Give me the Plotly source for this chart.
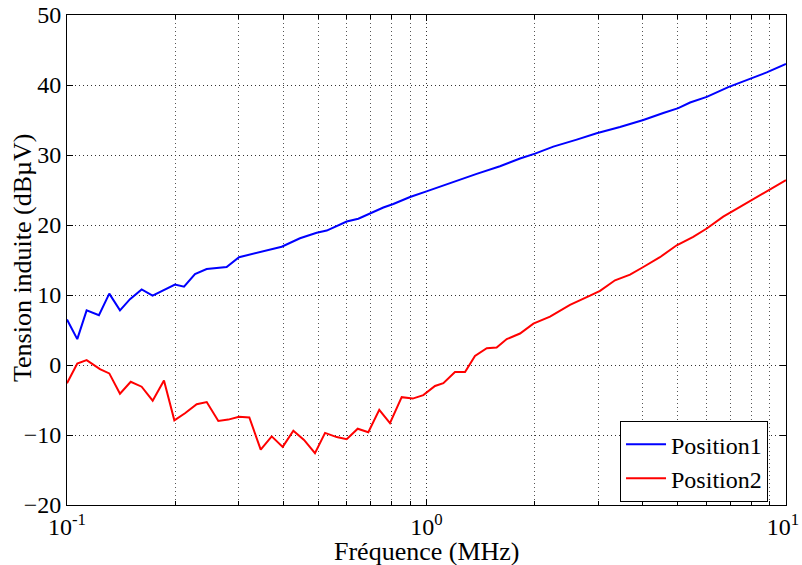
import plotly.graph_objects as go

# ---- data ----
freq_pos1 = [0.1, 0.1068, 0.1134, 0.1227, 0.1311, 0.1404, 0.1497, 0.1613, 0.173, 0.1853,
             0.1997, 0.2116, 0.227, 0.2446, 0.278, 0.301, 0.330, 0.3594, 0.3956, 0.4447,
             0.495, 0.5278, 0.5998, 0.6461, 0.6964, 0.7585, 0.8085, 0.8999, 1.0, 1.163,
             1.379, 1.601, 1.82, 2.004, 2.253, 2.618, 2.974, 3.453, 4.01, 4.557,
             5.016, 5.41, 6.02, 6.91, 7.78, 8.84, 10.0]
pos1_dbuv = [6.5, 3.7, 7.8, 7.1, 10.2, 7.8, 9.4, 10.8, 9.9, 10.7,
             11.5, 11.2, 13.0, 13.7, 14.0, 15.4, 15.9, 16.3, 16.9, 18.1,
             18.9, 19.2, 20.5, 20.9, 21.7, 22.5, 23.0, 24.0, 24.8, 26.0,
             27.3, 28.4, 29.5, 30.2, 31.2, 32.2, 33.1, 34.0, 35.0, 36.0,
             36.7, 37.5, 38.3, 39.7, 40.7, 41.8, 43.0]

freq_pos2 = [0.1, 0.1068, 0.1134, 0.1235, 0.1311, 0.1404, 0.1504, 0.1613, 0.1731, 0.1861,
             0.1989, 0.2129, 0.2295, 0.2447, 0.2636, 0.2810, 0.3009, 0.3215, 0.3458, 0.3710,
             0.3981, 0.4262, 0.4564, 0.4895, 0.5222, 0.5626, 0.5998, 0.6436, 0.6889, 0.7389,
             0.7914, 0.8531, 0.9155, 0.9797, 1.056, 1.114, 1.2, 1.28, 1.364, 1.471,
             1.567, 1.672, 1.82, 1.983, 2.206, 2.507, 2.85, 3.039, 3.345, 3.683,
             4.01, 4.46, 4.966, 5.52, 6.02, 6.69, 7.45, 8.29, 9.03, 10.0]
pos2_dbuv = [-2.6, 0.2, 0.7, -0.6, -1.2, -4.1, -2.4, -3.1, -5.1, -2.2,
             -7.9, -6.9, -5.6, -5.3, -8.0, -7.8, -7.4, -7.5, -12.1, -10.2,
             -11.7, -9.4, -10.7, -12.6, -9.7, -10.3, -10.6, -9.1, -9.6, -6.4,
             -8.3, -4.6, -4.8, -4.3, -3.0, -2.6, -1.0, -1.0, 1.3, 2.4,
             2.5, 3.7, 4.5, 5.9, 6.9, 8.6, 9.9, 10.6, 12.1, 12.9,
             14.0, 15.4, 17.1, 18.3, 19.5, 21.2, 22.6, 24.0, 25.0, 26.4]

x_tick_vals = [0.1, 1, 10]
x_tick_text = ["10<sup>-1</sup>", "10<sup>0</sup>", "10<sup>1</sup>&nbsp;"]
x_minor_vals = [0.2, 0.3, 0.4, 0.5, 0.6, 0.7, 0.8, 0.9, 2, 3, 4, 5, 6, 7, 8, 9]
y_tick_vals = [-20, -10, 0, 10, 20, 30, 40, 50]
x_title = "Fréquence (MHz)"
y_title = "Tension induite (dBµV)"

FONT = "Liberation Serif, Times New Roman, Times, serif"
GRID = "#333333"
DASH = "1px,3px"

fig = go.Figure()
fig.add_trace(go.Scatter(x=freq_pos1, y=pos1_dbuv, mode="lines", name="Position1",
                         line=dict(color="#0000FF", width=2)))
fig.add_trace(go.Scatter(x=freq_pos2, y=pos2_dbuv, mode="lines", name="Position2",
                         line=dict(color="#FF0000", width=2)))

fig.update_layout(
    width=802, height=565,
    margin=dict(l=67, r=16, t=15, b=60, autoexpand=False),
    paper_bgcolor="white", plot_bgcolor="white",
    font=dict(family=FONT, color="black", size=24),
    showlegend=True,
    legend=dict(x=0.975, y=0.006, xanchor="right", yanchor="bottom",
                bgcolor="white", bordercolor="black", borderwidth=1,
                font=dict(family=FONT, size=24, color="black"),
                itemwidth=40, tracegroupgap=0),
    annotations=[
        dict(text=x_title, xref="paper", yref="paper", x=0.5, y=-0.094,
             xanchor="center", yanchor="middle", showarrow=False,
             font=dict(family=FONT, size=26, color="black")),
        dict(text=y_title, xref="paper", yref="paper", x=-0.0626, y=0.506,
             xanchor="center", yanchor="middle", showarrow=False, textangle=-90,
             font=dict(family=FONT, size=26, color="black")),
    ],
)

fig.update_xaxes(
    type="log", range=[-1, 1], automargin=False,
    tickmode="array", tickvals=x_tick_vals, ticktext=x_tick_text,
    tickfont=dict(family=FONT, size=24, color="black"),
    ticklabeloverflow="allow",
    ticks="inside", ticklen=6, tickcolor="black",
    showline=True, linecolor="black", linewidth=1, mirror="ticks",
    showgrid=True, gridcolor=GRID, griddash=DASH, gridwidth=1,
    minor=dict(tickvals=x_minor_vals, ticks="inside", ticklen=4, tickcolor="black",
               showgrid=True, gridcolor="#555555", griddash=DASH, gridwidth=1),
    zeroline=False,
)
fig.update_yaxes(
    range=[-20, 50], automargin=False,
    tickmode="array", tickvals=y_tick_vals,
    tickfont=dict(family=FONT, size=24, color="black"),
    ticklabeloverflow="allow",
    ticks="inside", ticklen=6, tickcolor="black",
    showline=True, linecolor="black", linewidth=1, mirror="ticks",
    showgrid=True, gridcolor=GRID, griddash=DASH, gridwidth=1,
    zeroline=False,
)

fig.write_html("out.html", config={"displayModeBar": False},
               post_script="document.body.style.margin='0';")
